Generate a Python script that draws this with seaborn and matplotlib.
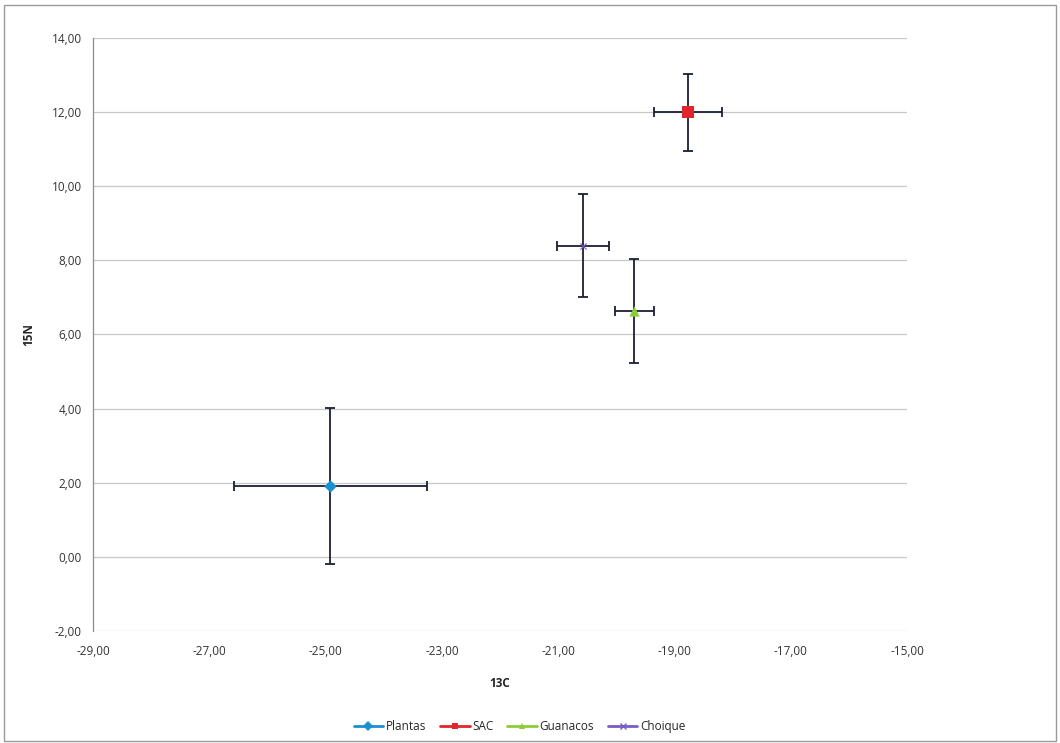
import matplotlib
matplotlib.use("Agg")
import matplotlib.pyplot as plt
from matplotlib.lines import Line2D
from matplotlib.patches import Rectangle
import seaborn as sns
import pandas as pd

# Stable isotope means (13C, 15N) with standard deviations per group
groups = ["Plantas", "SAC", "Guanacos", "Choique"]
c13_mean = [-24.92, -18.77, -19.69, -20.57]
n15_mean = [1.91, 12.00, 6.63, 8.39]
c13_sd = [1.66, 0.58, 0.34, 0.45]
n15_sd = [2.11, 1.04, 1.40, 1.39]

colors = ["#1B8FD2", "#E0252B", "#8CCB3A", "#7A5BC4"]
markers = ["D", "s", "^", "x"]
sizes = [40, 70, 55, 20]

x_ticks = [-29, -27, -25, -23, -21, -19, -17, -15]
y_ticks = [-2, 0, 2, 4, 6, 8, 10, 12, 14]

df = pd.DataFrame({"grupo": groups, "13C": c13_mean, "15N": n15_mean,
                   "sd13C": c13_sd, "sd15N": n15_sd})

sns.set_theme(style="white")
plt.rcParams["font.family"] = ["Open Sans", "DejaVu Sans"]

fig = plt.figure(figsize=(10.6, 7.43), dpi=100)
ax = fig.add_axes([0.0877, 0.1507, 0.768, 0.7982])

# Error bars first so markers sit on top
ax.errorbar(df["13C"], df["15N"], xerr=df["sd13C"], yerr=df["sd15N"],
            fmt="none", ecolor="#1a1f33", elinewidth=1.3, capsize=3.5,
            capthick=1.3, zorder=2)

for g, c, m, s in zip(groups, colors, markers, sizes):
    sub = df[df["grupo"] == g]
    sns.scatterplot(data=sub, x="13C", y="15N", ax=ax, color=c, marker=m,
                    s=s, linewidth=0 if m != "x" else 0.8, zorder=3,
                    legend=False)

ax.set_xlim(-29, -15)
ax.set_ylim(-2, 14)
ax.set_xticks(x_ticks)
ax.set_yticks(y_ticks)
fmt = lambda v: f"{v:.2f}".replace(".", ",")
ax.set_xticklabels([fmt(v) for v in x_ticks])
ax.set_yticklabels([fmt(v) for v in y_ticks])
ax.tick_params(axis="both", labelsize=8.5, colors="#333333", length=0, pad=8)
ax.tick_params(axis="x", pad=10)

ax.yaxis.grid(True, color="#c8c8c8", linewidth=0.9)
ax.xaxis.grid(False)
for side in ["top", "right", "bottom"]:
    ax.spines[side].set_visible(False)
ax.spines["left"].set_color("#8c8c8c")
ax.spines["left"].set_linewidth(0.9)

ax.set_xlabel("13C", fontsize=8.5, fontweight="bold", labelpad=14)
ax.set_ylabel("15N", fontsize=8.5, fontweight="bold", labelpad=12)

handles = [Line2D([0], [0], color=c, marker=m, markersize=5,
                  linewidth=2, markeredgewidth=1 if m == "x" else 0)
           for c, m in zip(colors, markers)]
fig.legend(handles, groups, loc="center", bbox_to_anchor=(0.49, 0.022),
           ncol=4, frameon=False, fontsize=8.5, handlelength=2.5,
           columnspacing=1.2, handletextpad=0.2)

# Outer chart frame
fig.patches.append(Rectangle((0.004, 0.003), 0.992, 0.99, transform=fig.transFigure,
                             fill=False, edgecolor="#9a9a9a", linewidth=1.0))

fig.savefig("out.png", dpi=100)
